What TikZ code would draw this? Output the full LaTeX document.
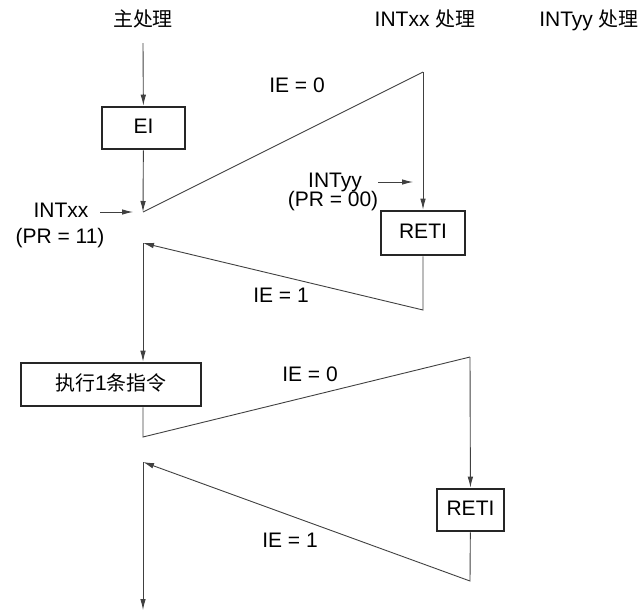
\documentclass[tikz,border=0pt]{standalone}
\usepackage{fontspec}
\setmainfont{Liberation Sans}
\newfontfamily\cjk[Scale=0.95]{Noto Sans CJK SC}
\usetikzlibrary{arrows.meta}
\begin{document}
\begin{tikzpicture}[x=1pt,y=-1pt,
  every node/.style={font=\fontsize{21}{23}\selectfont, inner sep=0pt, text height=15pt, text depth=4pt},
  boxnode/.style={draw=black!85, line width=2.6pt, inner sep=0pt},
  conn/.style={draw=black!75, line width=0.9pt},
  arr/.style={conn, -{Latex[length=11pt,width=5.5pt]}}
]
\useasboundingbox (0,0) rectangle (643,611);

% headings
\node (hmain) at (143,21) {\cjk 主处理};
\node (hxx) at (425,21) {INTxx {\cjk 处理}};
\node (hyy) at (589,21) {INTyy {\cjk 处理}};

% boxes
\node[boxnode, minimum width=83pt, minimum height=42pt] (ei) at (143.5,128) {EI};
\node[boxnode, minimum width=84pt, minimum height=44pt] (reti1) at (423,233) {RETI};
\node[boxnode, minimum width=180pt, minimum height=43pt] (exec) at (111,384.5) {{\cjk 执行}1{\cjk 条指令}};
\node[boxnode, minimum width=67pt, minimum height=42pt] (reti2) at (470.5,510) {RETI};

% coordinates
\coordinate (s0) at (143,43);
\coordinate (a1) at (143,212);
\coordinate (t1) at (423,72);
\coordinate (b1) at (423,310);
\coordinate (r1) at (143,243);
\coordinate (a2) at (143,437);
\coordinate (t2) at (470,357);
\coordinate (b2) at (470,581);
\coordinate (r2) at (143,462);
\coordinate (e) at (143,610);
\coordinate (ixs) at (100,212);
\coordinate (ixe) at (133,212);
\coordinate (iys) at (378,182);
\coordinate (iye) at (413,182);

% labels
\node (ie0a) at (297,87) {IE = 0};
\node (ie1a) at (281,297) {IE = 1};
\node (ie0b) at (310,376) {IE = 0};
\node (ie1b) at (290,542) {IE = 1};
\node (intxx) at (61,212) {INTxx};
\node (prxx) at (60,238) {(PR = 11)};
\node (intyy) at (335,182) {INTyy};
\node (pryy) at (333,201) {(PR = 00)};

% connectors
\draw[arr] (s0) -- (ei);
\draw[arr] (ei) -- (a1);
\draw[conn] (a1) -- (t1);
\draw[arr] (t1) -- (reti1);
\draw[arr] (reti1) -- (b1) -- (r1);
\draw[arr] (r1) -- (r1 |- exec.north);
\draw[conn] (r1 |- exec.south) -- (a2) -- (t2);
\draw[arr] (t2) -- (reti2);
\draw[arr] (reti2) -- (b2) -- (r2);
\draw[arr] (r2) -- (e);
\draw[arr] (ixs) -- (ixe);
\draw[arr] (iys) -- (iye);
\end{tikzpicture}
\end{document}
